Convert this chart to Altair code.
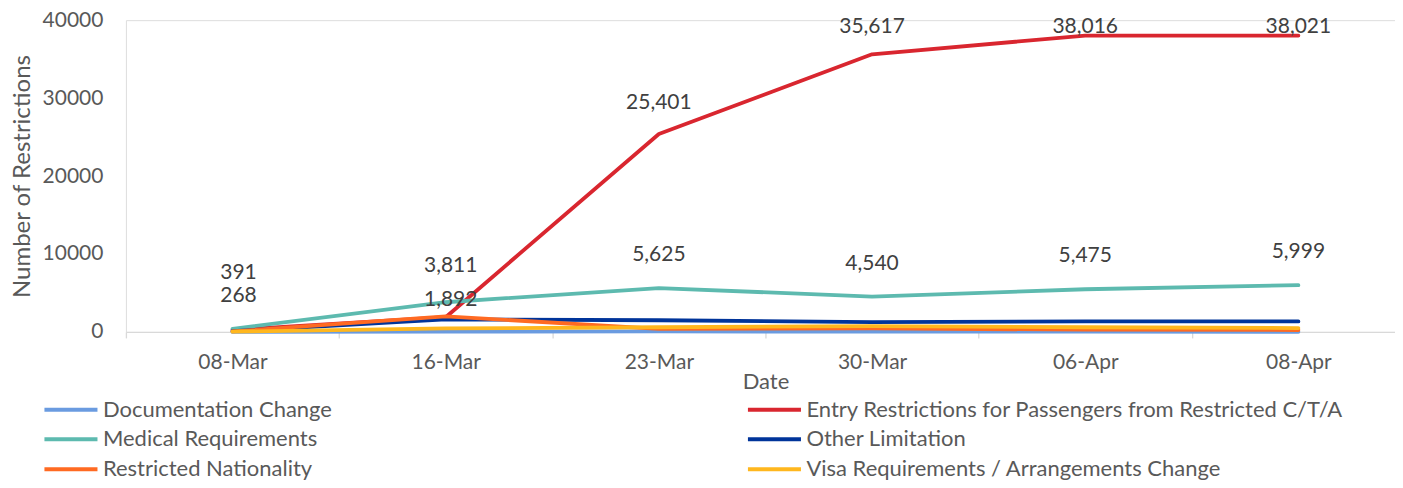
import altair as alt
import pandas as pd

# ---------------- data ----------------
dates = ["08-Mar", "16-Mar", "23-Mar", "30-Mar", "06-Apr", "08-Apr"]
series_names = [
    "Documentation Change",
    "Entry Restrictions for Passengers from Restricted C/T/A",
    "Medical Requirements",
    "Other Limitation",
    "Restricted Nationality",
    "Visa Requirements / Arrangements Change",
]
documentation_change = [0, 50, 60, 40, 30, 20]
entry_restrictions = [268, 1892, 25401, 35617, 38016, 38021]
medical_requirements = [391, 3811, 5625, 4540, 5475, 5999]
other_limitation = [100, 1600, 1500, 1250, 1350, 1350]
restricted_nationality = [60, 2000, 400, 450, 300, 250]
visa_requirements = [40, 450, 600, 750, 600, 500]
y_ticks = [0, 10000, 20000, 30000, 40000]

series_values = [
    documentation_change,
    entry_restrictions,
    medical_requirements,
    other_limitation,
    restricted_nationality,
    visa_requirements,
]
colors = ["#6A9BE0", "#D9262F", "#5DBAAF", "#00349A", "#FF6A22", "#FFB71E"]

rows = []
for name, vals in zip(series_names, series_values):
    for d, v in zip(dates, vals):
        rows.append({"date": d, "series": name, "value": v})
df = pd.DataFrame(rows)

# labelled series and their label offsets (styling only)
labelled = ["Medical Requirements", "Entry Restrictions for Passengers from Restricted C/T/A"]
default_dy = {labelled[0]: -33, labelled[1]: -31}
special_dy = {
    (labelled[0], "08-Mar"): (-56, 6),
    (labelled[0], "16-Mar"): (-36, 5),
    (labelled[1], "08-Mar"): (-34, 6),
    (labelled[1], "16-Mar"): (-17, 5),
    (labelled[1], "30-Mar"): (-27, 0),
    (labelled[1], "06-Apr"): (-9, 0),
    (labelled[1], "08-Apr"): (-9, 0),
}

FONT = "Lato"
TXT = "#595959"

x_enc = alt.X(
    "date:N",
    sort=dates,
    scale=alt.Scale(type="band", domain=dates, range=[0, 1280], paddingInner=0, paddingOuter=0),
    axis=alt.Axis(
        title="Date",
        labelAngle=0,
        tickBand="extent",
        tickSize=6,
        tickColor="#D9D9D9",
        tickWidth=1.3,
        domainColor="#D9D9D9",
        domainWidth=1.3,
        labelPadding=25,
        labelBaseline="middle",
        labelFontSize=21,
        labelColor=TXT,
        labelFont=FONT,
        titleFont=FONT,
        titleFontSize=22,
        titleFontWeight="normal",
        titleColor=TXT,
        titleY=50,
        titleBaseline="middle",
        grid=False,
    ),
)
y_enc = alt.Y(
    "value:Q",
    scale=alt.Scale(domain=[0, 40000], nice=False, zero=True),
    axis=alt.Axis(
        title="Number of Restrictions",
        values=y_ticks,
        format="d",
        grid=False,
        domain=False,
        ticks=False,
        labelPadding=23,
        labelFontSize=21,
        labelColor=TXT,
        labelFont=FONT,
        titleFont=FONT,
        titleFontSize=24,
        titleFontWeight="normal",
        titleColor=TXT,
        titleAngle=270,
        titleX=-103,
        titleY=156,
        titleAlign="center",
        titleBaseline="middle",
    ),
)

lines = alt.Chart(df).mark_line(strokeWidth=3.8, strokeJoin="round", strokeCap="round").encode(
    x=x_enc,
    y=y_enc,
    color=alt.Color(
        "series:N",
        sort=series_names,
        scale=alt.Scale(domain=series_names, range=colors),
        legend=alt.Legend(
            title=None,
            orient="none",
            legendX=-71.5,
            legendY=373,
            columns=2,
            direction="horizontal",
            symbolType="M-1.83,0H1.83",
            symbolSize=841,
            symbolStrokeWidth=4,
            labelFontSize=22,
            labelFont=FONT,
            labelColor=TXT,
            labelOffset=15.5,
            labelLimit=0,
            rowPadding=2,
            columnPadding=407,
            gridAlign="each",
            padding=0,
        ),
    ),
    order=alt.Order("date_idx:Q"),
).transform_calculate(date_idx="indexof(" + str(dates) + ", datum.date)")

layers = [lines]
for s in labelled:
    groups = {}
    for d in dates:
        dy, dx = special_dy.get((s, d), (default_dy[s], 0))
        groups.setdefault((dy, dx), []).append(d)
    for (dy, dx), ds in groups.items():
        t = (
            alt.Chart(df)
            .transform_filter(alt.datum.series == s)
            .transform_filter(alt.FieldOneOfPredicate(field="date", oneOf=ds))
            .mark_text(dy=dy, dx=dx, fontSize=21, font=FONT, color="#404040", baseline="middle", align="center")
            .encode(
                x=alt.X("date:N", sort=dates, scale=alt.Scale(type="band", domain=dates, range=[0, 1280])),
                y=alt.Y("value:Q"),
                text=alt.Text("value:Q", format=","),
            )
        )
        layers.append(t)

chart = (
    alt.layer(*layers)
    .properties(
        width=1270,
        height=312,
        autosize=alt.AutoSizeParams(type="none"),
        padding={"left": 118, "top": 12, "right": 0, "bottom": 148},
    )
    .configure_view(stroke=None)
    .configure(font=FONT)
)

chart.save("out.html", embed_options={"renderer": "svg", "actions": False})
